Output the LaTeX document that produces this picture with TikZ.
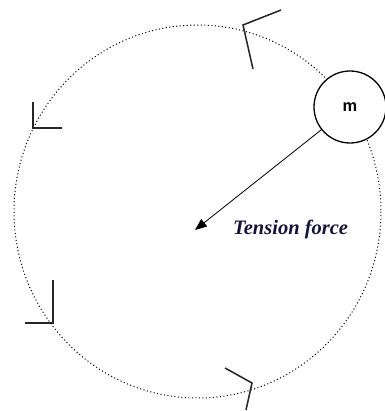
\documentclass[tikz,border=0pt]{standalone}
\usepackage{fontspec}
\setmainfont{Liberation Serif}
\newfontfamily\massfont{Liberation Sans}
\usetikzlibrary{positioning, arrows.meta}

\definecolor{tensioncol}{rgb}{0.08,0.08,0.22}

\begin{document}
\begin{tikzpicture}[
  x=0.03cm, y=-0.03cm,
  orbit/.style={line width=0.85pt, dash pattern=on 0.9pt off 2.1pt, black},
  chev/.style={line width=1.3pt, black!85},
  mass/.style={draw, circle, fill=white, line width=1.1pt, minimum size=2.16cm, inner sep=0pt, font=\massfont\bfseries\fontsize{14}{14}\selectfont},
  force/.style={-{Triangle[length=10pt,width=8pt]}, line width=0.7pt},
  forcelbl/.style={font=\bfseries\itshape\fontsize{17.5}{20}\selectfont, text=tensioncol, inner sep=0pt}
]
  \useasboundingbox (0,0) rectangle (385,411);

  % circular path of the mass
  \draw[orbit] (197.5,211.5) ellipse [x radius=183.5, y radius=186.5];

  % direction marks on the path
  \draw[chev] (281,10) -- (243,25) -- (253,69);
  \draw[chev] (33,102) -- (33,128) -- (62,128);
  \draw[chev] (53,280) -- (53,323) -- (25,323);
  \draw[chev] (225,368) -- (252,383) -- (246,410);

  \coordinate (ctr) at (195,230);
  \node[mass] (m) at (350,107) {m};
  \node[forcelbl, anchor=west] (lbl) at (233,229) {Tension force};

  \draw[force] (m) -- (ctr);
\end{tikzpicture}
\end{document}
